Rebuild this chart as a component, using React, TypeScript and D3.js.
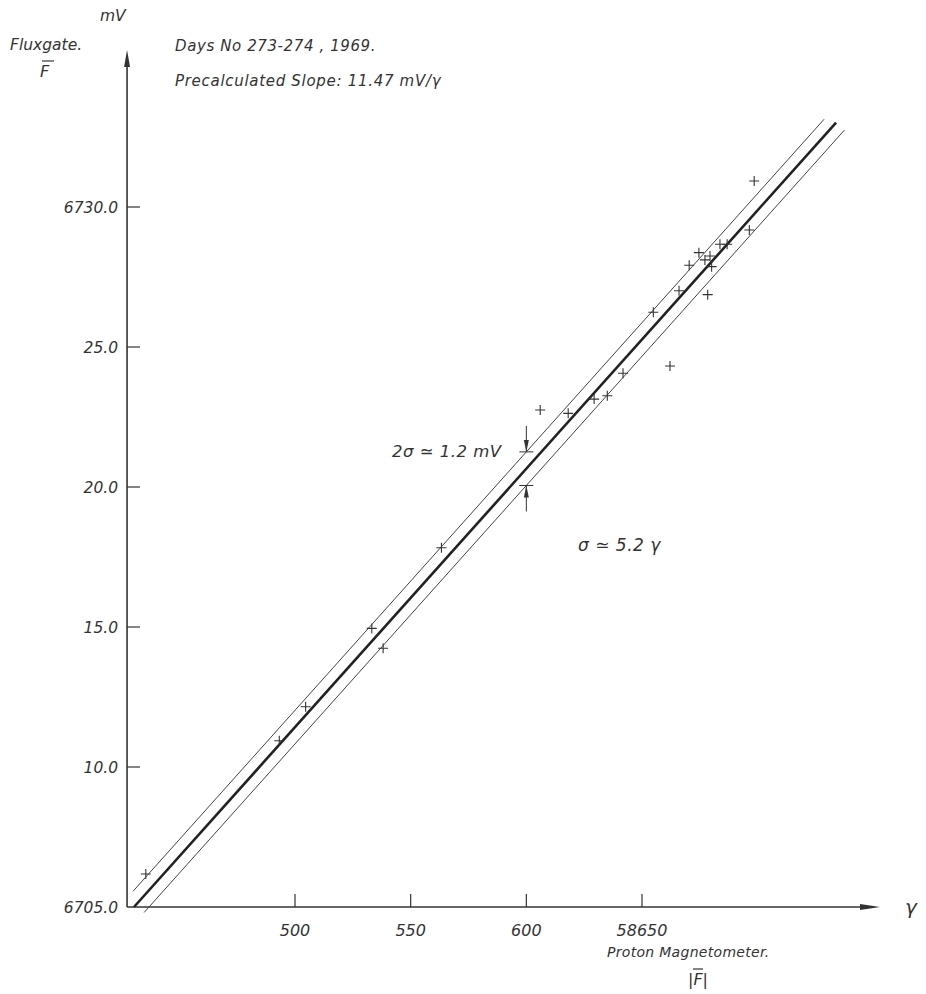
import React from "react";
import * as d3 from "d3";

// proton magnetometer reading (gamma, offset from 58000) vs fluxgate output (mV)
const protonGamma = [
  435.5, 493.2, 504.6, 533.2, 538.1, 563.3, 606.0, 618.1, 629.3, 635.0, 641.8, 654.9,
  662.1, 666.0, 670.4, 674.6, 677.2, 678.4, 679.4, 680.1, 683.7, 686.8, 696.4, 698.5,
];
const fluxgateMv = [
  6706.18, 6710.94, 6712.15, 6714.95, 6714.24, 6717.83, 6722.75, 6722.63, 6723.14, 6723.26,
  6724.06, 6726.24, 6724.32, 6727.01, 6727.92, 6728.37, 6728.11, 6726.87, 6728.25, 6727.87,
  6728.67, 6728.67, 6729.18, 6730.93,
];

const xTicks = [500, 550, 600, 650];
const xTickLabels = ["500", "550", "600", "58650"];
const yTicks = [6705, 6710, 6715, 6720, 6725, 6730];
const yTickLabels = ["6705.0", "10.0", "15.0", "20.0", "25.0", "6730.0"];

// fitted line and the +-sigma band around it
const fitSlope = 0.0923; // mV per gamma on this plot
const fitAnchor = [430.4, 6705.0];
const bandHalf = 0.6; // mV
const mainRange = [430.4, 733.9];
const upperRange = [430.0, 728.7];
const lowerRange = [434.8, 737.5];
const sigmaAt = 600;

const W = 926;
const H = 994;
const ink = "#333";
const font = "'DejaVu Sans', sans-serif";

const fit = (g: number) => fitAnchor[1] + fitSlope * (g - fitAnchor[0]);

export default function App() {
  const x = d3.scaleLinear().domain([500, 650]).range([295, 642]);
  const y = d3.scaleLinear().domain([6705, 6730]).range([907, 207]);

  const x0 = x(427.4);
  const y0 = y(6705);
  const xEnd = 880;
  const yEnd = 50;

  const line = d3
    .line<number[]>()
    .x((d) => x(d[0]))
    .y((d) => y(d[1]));

  const seg = (r: number[], off: number) => line(r.map((g) => [g, fit(g) + off]));

  const armX = 5;
  const arrowX = x(sigmaAt);
  const upY = y(fit(sigmaAt) + bandHalf);
  const loY = y(fit(sigmaAt) - bandHalf);

  const txt = {
    fontFamily: font,
    fontStyle: "italic",
    fill: ink,
  } as const;

  return (
    <div style={{ position: "absolute", left: 0, top: 0 }}>
      <svg width={W} height={H} style={{ display: "block", background: "#fff" }}>
        {/* axes */}
        <line x1={x0} y1={y0} x2={x0} y2={yEnd + 10} stroke={ink} strokeWidth={1.6} />
        <path d={`M${x0},${yEnd} L${x0 - 3},${yEnd + 17} L${x0 + 3},${yEnd + 17} Z`} fill={ink} />
        <line x1={x0} y1={y0} x2={xEnd - 10} y2={y0} stroke={ink} strokeWidth={1.6} />
        <path d={`M${xEnd},${y0} L${xEnd - 20},${y0 - 3} L${xEnd - 20},${y0 + 3} Z`} fill={ink} />

        {yTicks.map((t, i) => (
          <g key={"y" + t}>
            {i > 0 && <line x1={x0} x2={x0 + 13} y1={y(t)} y2={y(t)} stroke={ink} strokeWidth={1.2} />}
            <text {...txt} x={x0 - 9} y={y(t) + 6} fontSize={15.5} textAnchor="end">
              {yTickLabels[i]}
            </text>
          </g>
        ))}
        {xTicks.map((t, i) => (
          <g key={"x" + t}>
            <line x1={x(t)} x2={x(t)} y1={y0} y2={y0 - 13} stroke={ink} strokeWidth={1.2} />
            <text {...txt} x={x(t)} y={y0 + 29} fontSize={16} textAnchor="middle">
              {xTickLabels[i]}
            </text>
          </g>
        ))}

        {/* fit and band */}
        <path d={seg(mainRange, 0) || ""} fill="none" stroke="#222" strokeWidth={2.6} />
        <path d={seg(upperRange, bandHalf) || ""} fill="none" stroke="#444" strokeWidth={1} />
        <path d={seg(lowerRange, -bandHalf) || ""} fill="none" stroke="#444" strokeWidth={1} />

        {/* observations */}
        {protonGamma.map((g, i) => {
          const cx = x(g);
          const cy = y(fluxgateMv[i]);
          return (
            <path
              key={i}
              d={`M${cx - armX},${cy} H${cx + armX} M${cx},${cy - armX} V${cy + armX}`}
              stroke={ink}
              strokeWidth={1.1}
            />
          );
        })}

        {/* 2 sigma marker */}
        <line x1={arrowX} x2={arrowX} y1={upY - 26} y2={upY} stroke={ink} strokeWidth={1} />
        <path d={`M${arrowX},${upY} L${arrowX - 2.5},${upY - 12} L${arrowX + 2.5},${upY - 12} Z`} fill={ink} />
        <line x1={arrowX - 7} x2={arrowX + 7} y1={upY} y2={upY} stroke={ink} strokeWidth={1} />
        <line x1={arrowX} x2={arrowX} y1={loY + 26} y2={loY} stroke={ink} strokeWidth={1} />
        <path d={`M${arrowX},${loY} L${arrowX - 2.5},${loY + 12} L${arrowX + 2.5},${loY + 12} Z`} fill={ink} />
        <line x1={arrowX - 7} x2={arrowX + 7} y1={loY} y2={loY} stroke={ink} strokeWidth={1} />

        <text {...txt} x={392} y={457} fontSize={16.5} letterSpacing={0.5}>
          2σ ≃ 1.2 mV
        </text>
        <text {...txt} x={578} y={551} fontSize={17} letterSpacing={0.5}>
          σ ≃ 5.2 γ
        </text>

        {/* titles */}
        <text {...txt} x={100} y={21} fontSize={15.5}>mV</text>
        <text {...txt} x={10} y={50} fontSize={15.5}>Fluxgate.</text>
        <text {...txt} x={40} y={77} fontSize={16}>F</text>
        <line x1={42} x2={54} y1={61} y2={61} stroke={ink} strokeWidth={1.2} />
        <text {...txt} x={175} y={51} fontSize={15} letterSpacing={0.6}>
          Days No 273-274 , 1969.
        </text>
        <text {...txt} x={175} y={86} fontSize={15} letterSpacing={0.7}>
          Precalculated Slope: 11.47 mV/γ
        </text>

        <text {...txt} x={905} y={914} fontSize={20}>γ</text>
        <text {...txt} x={607} y={957} fontSize={14} letterSpacing={0.3}>
          Proton Magnetometer.
        </text>
        <text {...txt} x={688} y={985} fontSize={16}>|F|</text>
        <line x1={693} x2={703} y1={969} y2={969} stroke={ink} strokeWidth={1.2} />
      </svg>
    </div>
  );
}
